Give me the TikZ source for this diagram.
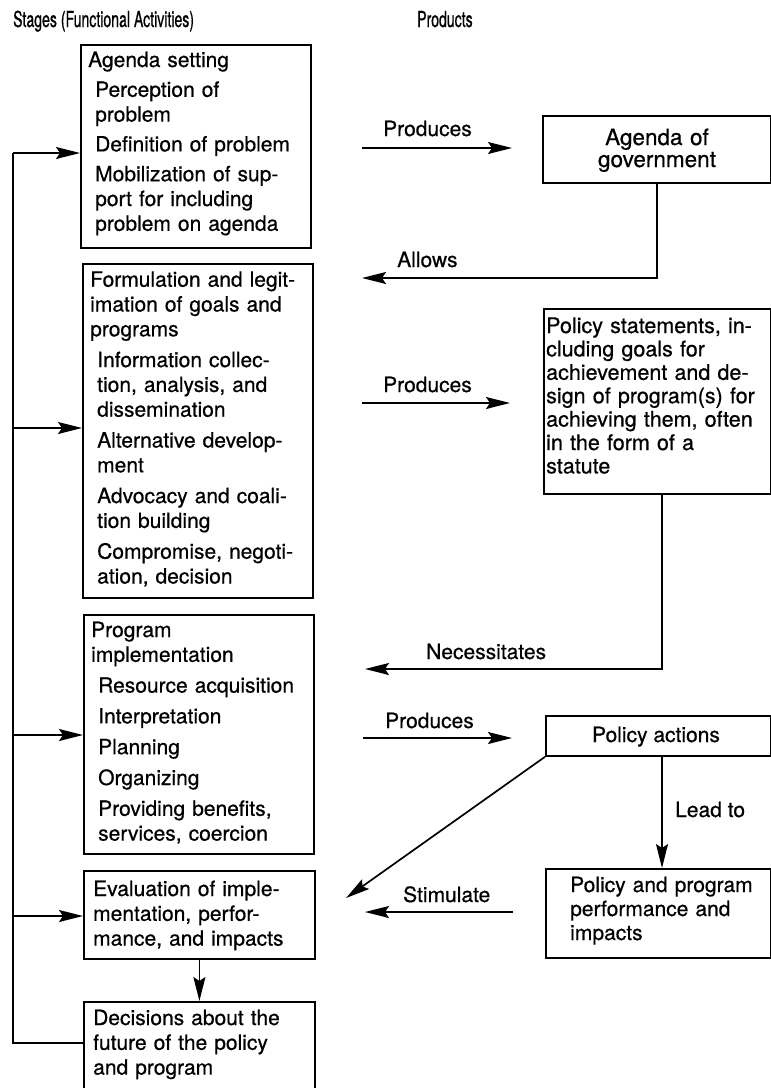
\documentclass[tikz,border=0pt]{standalone}
\usepackage{fontspec}
\setmainfont{TeX Gyre Heros}[FakeBold=0.6]
\newfontfamily\condfont[FakeStretch=0.64,FakeBold=0.6]{TeX Gyre Heros}
\usetikzlibrary{arrows.meta}
\newcommand{\myind}{\hspace*{7pt}}
\begin{document}
\begin{tikzpicture}[x=1pt,y=-1pt,
  box/.style={draw, line width=1.8pt, anchor=north west, inner sep=0pt},
  txt/.style={anchor=base west, inner sep=0pt, align=left, text width=270pt,
    font=\fontsize{21}{24.8}\selectfont},
  lbl/.style={anchor=base west, inner sep=0pt, font=\fontsize{21}{24}\selectfont},
  hdr/.style={anchor=base west, inner sep=0pt, font=\condfont\fontsize{22}{24}\selectfont},
  ln/.style={line width=1.7pt},
  arr/.style={line width=1.7pt, -{Stealth[length=24pt,width=12pt,inset=4pt]}}]
\useasboundingbox (0,0) rectangle (771,1088);
\fill[white] (0,0) rectangle (771,1088);

% headers
\node[hdr] (h1) at (13,27) {Stages (Functional Activities)};
\node[hdr] (h2) at (417,27) {Products};

% left boxes
\node[box, minimum width=230pt, minimum height=203pt] (b1) at (80,44) {};
\node[txt] (t1) at (88,67) {Agenda setting\\[5pt]
\myind Perception of\\
\myind problem\\[5pt]
\myind Definition of problem\\[5pt]
\myind Mobilization of sup-\\
\myind port for including\\
\myind problem on agenda};

\node[box, minimum width=230pt, minimum height=334pt] (b2) at (82,263) {};
\node[txt] (t2) at (90,286.7) {Formulation and legit-\\
imation of goals and\\
programs\\[6pt]
\myind Information collec-\\
\myind tion, analysis, and\\
\myind dissemination\\[6pt]
\myind Alternative develop-\\
\myind ment\\[6pt]
\myind Advocacy and coali-\\
\myind tion building\\[6pt]
\myind Compromise, negoti-\\
\myind ation, decision};

\node[box, minimum width=230pt, minimum height=239pt] (b3) at (83,614) {};
\node[txt] (t3) at (91,637) {Program\\
implementation\\[6pt]
\myind Resource acquisition\\[6pt]
\myind Interpretation\\[6pt]
\myind Planning\\[6pt]
\myind Organizing\\[6pt]
\myind Providing benefits,\\
\myind services, coercion};

\node[box, minimum width=231pt, minimum height=88pt] (b4) at (83,870) {};
\node[txt] (t4) at (93,896) {Evaluation of imple-\\
mentation, perfor-\\
mance, and impacts};

\node[box, minimum width=231pt, minimum height=100pt] (b5) at (83,1001) {};
\node[txt] (t5) at (93,1025) {Decisions about the\\
future of the policy\\
and program};

% right boxes
\node[box, minimum width=227.5pt, minimum height=67pt] (ag) at (542,115) {};
\node[anchor=base, inner sep=0pt, align=center, text width=220pt,
  font=\fontsize{22.5}{22}\selectfont] (tag) at (657,145) {Agenda of\\government};

\node[box, minimum width=226.5pt, minimum height=185pt] (ps) at (543,308) {};
\node[txt, font=\fontsize{21.5}{23.4}\selectfont] (tps) at (546,333) {Policy statements, in-\\
cluding goals for\\
achievement and de-\\
sign of program(s) for\\
achieving them, often\\
in the form of a\\
statute};

\node[box, minimum width=224.5pt, minimum height=40pt] (pa) at (545,715) {};
\node[anchor=base, inner sep=0pt, font=\fontsize{21}{24}\selectfont] (tpa) at (656,742) {Policy actions};

\node[box, minimum width=224.5pt, minimum height=89pt] (pp) at (545,868) {};
\node[txt, font=\fontsize{21}{24}\selectfont] (tpp) at (570,892) {Policy and program\\
performance and\\
impacts};

% feedback loop
\coordinate (fbB) at (13,1043);
\coordinate (fb1) at (13,153);
\coordinate (fb2) at (13,428);
\coordinate (fb3) at (13,735);
\coordinate (fb4) at (13,916);
\draw[ln] (b5.west |- fbB) -- (fbB) -- (fb1);
\draw[arr] (fb1) -- (fb1 -| b1.west);
\draw[arr] (fb2) -- (fb2 -| b2.west);
\draw[arr] (fb3) -- (fb3 -| b3.west);
\draw[arr] (fb4) -- (fb4 -| b4.west);
\draw[arr] (b4.south) -- (b5.north);

% produces arrows
\coordinate (p1a) at (362,148); \coordinate (p1b) at (512,148);
\coordinate (p2a) at (362,403); \coordinate (p2b) at (510,403);
\coordinate (p3a) at (363,738); \coordinate (p3b) at (512,738);
\draw[arr] (p1a) -- (p1b);
\draw[arr] (p2a) -- (p2b);
\draw[arr] (p3a) -- (p3b);

% allows
\coordinate (al) at (362,278);
\draw[arr] (ag.south) -- (ag.south |- al) -- (al);

% necessitates
\coordinate (nx) at (662,0);
\coordinate (ne) at (365,669);
\draw[arr] (ps.south -| nx) -- (nx |- ne) -- (ne);

% lead to
\draw[arr] (pa.south -| nx) -- (pp.north -| nx);

% diagonal
\coordinate (dg) at (346,898);
\draw[arr] (pa.south west) -- (dg);

% stimulate
\coordinate (sa) at (513,912); \coordinate (sb) at (365,912);
\draw[arr] (sa) -- (sb);

% labels
\node[lbl] (lp1) at (383,136) {Produces};
\node[lbl] (lal) at (397,267) {Allows};
\node[lbl] (lp2) at (383,392) {Produces};
\node[lbl] (lne) at (426,659) {Necessitates};
\node[lbl] (lp3) at (385,728) {Produces};
\node[lbl] (lle) at (675,817) {Lead to};
\node[lbl] (lst) at (403,902) {Stimulate};
\end{tikzpicture}
\end{document}
